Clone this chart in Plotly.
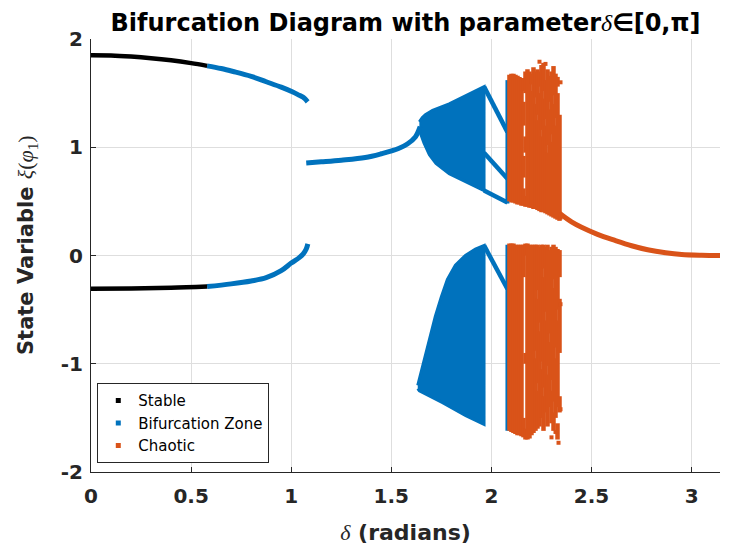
import math
import plotly.graph_objects as go

# ---------------- data ----------------
stable_up_x = [0.0, 0.1, 0.2, 0.3, 0.4, 0.5, 0.58]
stable_up_y = [1.850, 1.848, 1.838, 1.823, 1.803, 1.777, 1.752]
stable_lo_x = [0.0, 0.2, 0.4, 0.58]
stable_lo_y = [-0.308, -0.305, -0.298, -0.287]

bif_up_x = [0.58, 0.65, 0.71, 0.80, 0.875, 0.95, 1.008, 1.04, 1.057, 1.07, 1.082]
bif_up_y = [1.752, 1.727, 1.700, 1.655, 1.605, 1.555, 1.510, 1.480, 1.465, 1.445, 1.420]
bif_lo_x = [0.58, 0.70, 0.80, 0.875, 0.95, 1.00, 1.04, 1.06, 1.075, 1.083]
bif_lo_y = [-0.287, -0.262, -0.235, -0.205, -0.140, -0.070, -0.020, 0.015, 0.060, 0.108]
bif_mid_x = [1.075, 1.15, 1.25, 1.37, 1.45, 1.536, 1.58, 1.62, 1.644]
bif_mid_y = [0.855, 0.865, 0.880, 0.905, 0.940, 0.988, 1.030, 1.095, 1.190]

# outlines of the dense period-doubling fans
fan_up_x = [1.640, 1.655, 1.670, 1.706, 1.789, 1.872, 1.963, 1.963, 1.872, 1.789, 1.723, 1.690, 1.663, 1.640]
fan_up_y = [1.235, 1.275, 1.300, 1.340, 1.400, 1.480, 1.560, 0.600, 0.680, 0.756, 0.850, 0.930, 1.040, 1.157]
fan_lo_x = [1.632, 1.660, 1.690, 1.720, 1.750, 1.780, 1.820, 1.870, 1.920, 1.963,
            1.963, 1.872, 1.756, 1.673, 1.640, 1.632]
fan_lo_y = [-1.200, -1.000, -0.780, -0.560, -0.380, -0.220, -0.090, 0.000, 0.060, 0.093,
            -1.560, -1.480, -1.360, -1.280, -1.250, -1.230]

# branches leaving the fans (start/end pairs)
link_x0 = [1.963, 1.963, 1.963, 1.963]
link_y0 = [1.560, 0.950, 0.600, 0.093]
link_x1 = [2.080, 2.080, 2.080, 2.080]
link_y1 = [1.140, 0.710, 0.490, -0.310]
# blue strips at the start of the chaotic window
strip_x = [2.08, 2.08]
strip_lo = [0.48, -1.62]
strip_hi = [1.62, 0.10]

# chaotic window: vertical runs of points (x, low, high)
chaos_x = [
    2.09, 2.10, 2.11, 2.12, 2.13, 2.14, 2.15,
    2.16, 2.16, 2.16, 2.16, 2.17, 2.17, 2.17,
    2.18, 2.19, 2.20, 2.20, 2.21, 2.22, 2.22, 2.23, 2.23,
    2.24, 2.24, 2.25, 2.25, 2.26, 2.26, 2.27, 2.27, 2.28, 2.28,
    2.29, 2.29, 2.30, 2.30, 2.31, 2.31, 2.32, 2.32, 2.33, 2.33, 2.34,
    # lower band
    2.09, 2.10, 2.11, 2.12, 2.13, 2.14, 2.15,
    2.16, 2.16, 2.17, 2.17, 2.17,
    2.18, 2.19, 2.20, 2.21, 2.22, 2.22,
    2.23, 2.23, 2.23, 2.24, 2.24, 2.25, 2.25, 2.26, 2.26, 2.26,
    2.27, 2.27, 2.28, 2.28, 2.29, 2.29, 2.30, 2.30,
    2.31, 2.31, 2.31, 2.32, 2.32, 2.33, 2.33, 2.33, 2.34, 2.34, 2.34,
]
chaos_lo = [
    0.50, 0.49, 0.49, 0.48, 0.47, 0.47, 0.46,
    0.46, 0.72, 1.20, 1.52, 0.45, 0.95, 1.50,
    0.45, 0.44, 0.44, 1.58, 0.43, 0.43, 1.46, 0.42, 1.30,
    0.41, 1.56, 0.40, 1.16, 0.40, 1.52, 0.39, 1.26, 0.38, 1.02,
    0.37, 1.42, 0.36, 1.12, 0.35, 1.48, 0.34, 1.27, 0.33, 1.56, 0.32,
    -1.62, -1.63, -1.64, -1.65, -1.66, -1.66, -1.67,
    -1.68, -0.20, -1.70, -1.00, 0.00,
    -1.70, -1.69, -1.66, -1.64, -1.62, -0.88,
    -1.60, -1.18, -0.32, -1.58, -0.62, -1.50, -0.98, -1.62, -1.22, -0.12,
    -1.45, -0.52, -1.58, -1.02, -1.40, -0.72, -1.55, -1.15,
    -1.62, -1.35, -0.22, -1.50, -0.85, -1.70, -1.40, -0.50, -1.45, -0.90, -0.20,
]
chaos_hi = [
    1.67, 1.68, 1.68, 1.67, 1.66, 1.65, 1.64,
    0.62, 0.92, 1.42, 1.64, 0.55, 1.10, 1.70,
    1.72, 1.70, 1.52, 1.68, 1.74, 1.40, 1.70, 1.25, 1.72,
    1.50, 1.70, 1.10, 1.76, 1.45, 1.78, 1.20, 1.62, 0.95, 1.72,
    1.35, 1.66, 1.05, 1.70, 1.40, 1.75, 1.20, 1.68, 1.50, 1.65, 1.30,
    0.11, 0.11, 0.11, 0.10, 0.10, 0.10, 0.10,
    -1.50, 0.10, -1.60, -0.90, 0.11,
    0.11, 0.10, 0.10, 0.10, -0.95, 0.10,
    -1.25, -0.40, 0.10, -0.70, 0.08, -1.05, 0.10, -1.30, -0.20, 0.10,
    -0.60, 0.08, -1.10, 0.10, -0.80, 0.05, -1.25, 0.08,
    -1.45, -0.30, 0.10, -0.95, 0.08, -1.55, -0.60, 0.06, -1.30, -0.40, 0.05,
]
chaos_pts_x = [2.335, 2.300, 2.345, 2.345, 2.320, 2.270, 2.240, 2.345, 2.345]
chaos_pts_y = [-1.73, -1.68, -0.45, -1.42, -1.63, 1.77, 1.79, 1.60, 0.35]

tail_x = [2.34, 2.40, 2.45, 2.53, 2.617, 2.70, 2.78, 2.87, 2.95, 3.05, 3.1416]
tail_y = [0.39, 0.31, 0.26, 0.195, 0.139, 0.090, 0.053, 0.025, 0.009, 0.002, 0.0]

x_ticks = [0, 0.5, 1, 1.5, 2, 2.5, 3]
x_tick_labels = ["0", "0.5", "1", "1.5", "2", "2.5", "3"]
y_ticks = [-2, -1, 0, 1, 2]
y_tick_labels = ["-2", "-1", "0", "1", "2"]

BLACK = "#000000"
BLUE = "#0072BD"
ORANGE = "#D95319"
SERIF = "<span style=\"font-family:'Liberation Serif';font-weight:normal\">"


def segments(xs0, ys0, xs1, ys1):
    sx, sy = [], []
    for a, b, c, d in zip(xs0, ys0, xs1, ys1):
        sx += [a, c, None]
        sy += [b, d, None]
    return sx, sy


fig = go.Figure()

# blue fans
for fx, fy in [(fan_up_x, fan_up_y), (fan_lo_x, fan_lo_y)]:
    fig.add_trace(go.Scatter(x=fx, y=fy, mode="lines", fill="toself",
                             fillcolor=BLUE, line=dict(color=BLUE, width=3),
                             showlegend=False, hoverinfo="skip"))

# blue links and strips
lx, ly = segments(link_x0, link_y0, link_x1, link_y1)
fig.add_trace(go.Scatter(x=lx, y=ly, mode="lines", line=dict(color=BLUE, width=4.5),
                         showlegend=False, hoverinfo="skip"))
sx, sy = segments(strip_x, strip_lo, strip_x, strip_hi)
fig.add_trace(go.Scatter(x=sx, y=sy, mode="lines", line=dict(color=BLUE, width=4),
                         showlegend=False, hoverinfo="skip"))

# blue smooth branches
for bx, by in [(bif_up_x, bif_up_y), (bif_lo_x, bif_lo_y), (bif_mid_x, bif_mid_y)]:
    fig.add_trace(go.Scatter(x=bx, y=by, mode="lines", line=dict(color=BLUE, width=5, shape="spline"),
                             showlegend=False, hoverinfo="skip"))

# black stable branches
for bx, by in [(stable_up_x, stable_up_y), (stable_lo_x, stable_lo_y)]:
    fig.add_trace(go.Scatter(x=bx, y=by, mode="lines", line=dict(color=BLACK, width=4.5, shape="spline"),
                             showlegend=False, hoverinfo="skip"))

# orange chaotic window
cx, cy = segments(chaos_x, chaos_lo, chaos_x, chaos_hi)
fig.add_trace(go.Scatter(x=cx, y=cy, mode="lines", line=dict(color=ORANGE, width=4.5),
                         showlegend=False, hoverinfo="skip"))
fig.add_trace(go.Scatter(x=chaos_pts_x, y=chaos_pts_y, mode="markers",
                         marker=dict(color=ORANGE, symbol="square", size=4),
                         showlegend=False, hoverinfo="skip"))
fig.add_trace(go.Scatter(x=tail_x, y=tail_y, mode="lines", line=dict(color=ORANGE, width=5, shape="spline"),
                         showlegend=False, hoverinfo="skip"))

# legend entries
for name, col in [("Stable", BLACK), ("Bifurcation Zone", BLUE), ("Chaotic", ORANGE)]:
    fig.add_trace(go.Scatter(x=[None], y=[None], mode="markers", name=name,
                             marker=dict(color=col, symbol="square", size=5)))

tick_font = dict(family="DejaVu Sans", size=20, color="#262626", weight="bold")

# the page adds an 8px body margin, so the figure is drawn 8px smaller
fig.update_layout(
    width=724, height=547,
    margin=dict(l=83, r=12, t=31, b=83, autoexpand=False),
    plot_bgcolor="white", paper_bgcolor="white",
    font=dict(family="DejaVu Sans", color="#262626"),
    title=dict(
        text="Bifurcation Diagram with parameter" + SERIF + "<i>δ</i></span>∈[0,π]",
        font=dict(family="DejaVu Sans", size=24, color="#000000", weight="bold"),
        x=0.5, xref="paper", xanchor="center",
        y=1 - 15 / 547, yref="container", yanchor="middle",
    ),
    xaxis=dict(
        range=[0, math.pi], tickmode="array", tickvals=x_ticks, ticktext=x_tick_labels,
        tickfont=tick_font, ticks="inside", ticklen=5, tickcolor="#262626",
        showline=True, linecolor="#262626", linewidth=1, mirror=False,
        showgrid=True, gridcolor="#dedede", gridwidth=1, zeroline=False,
        ticklabelstandoff=6, automargin=False,
        title=dict(
            text=SERIF + "<i>δ</i></span> (radians)",
            font=dict(family="DejaVu Sans", size=22, color="#262626", weight="bold"),
            standoff=17,
        ),
    ),
    yaxis=dict(
        range=[-2, 2], tickmode="array", tickvals=y_ticks, ticktext=y_tick_labels,
        tickfont=tick_font, ticks="inside", ticklen=5, tickcolor="#262626",
        showline=True, linecolor="#262626", linewidth=1, mirror=False,
        showgrid=True, gridcolor="#dedede", gridwidth=1, zeroline=False,
        ticklabelstandoff=3, automargin=False,
    ),
    annotations=[dict(
        text="State Variable <span style=\"font-family:'Liberation Serif';font-weight:normal;font-size:22px\">"
             "<i>ξ</i>(<i>φ</i><sub>1</sub>)</span>",
        font=dict(family="DejaVu Sans", size=21, color="#262626", weight="bold"),
        textangle=-90, showarrow=False,
        xref="paper", yref="paper",
        x=-64 / 629, y=(472 - 245) / 433,
        xanchor="center", yanchor="middle",
    )],
    legend=dict(
        x=0.01, y=0.02, xanchor="left", yanchor="bottom",
        bgcolor="white", bordercolor="#262626", borderwidth=1,
        font=dict(family="DejaVu Sans", size=15, color="#000000"),
        itemwidth=30, tracegroupgap=0,
    ),
)

fig.write_html("out.html")
